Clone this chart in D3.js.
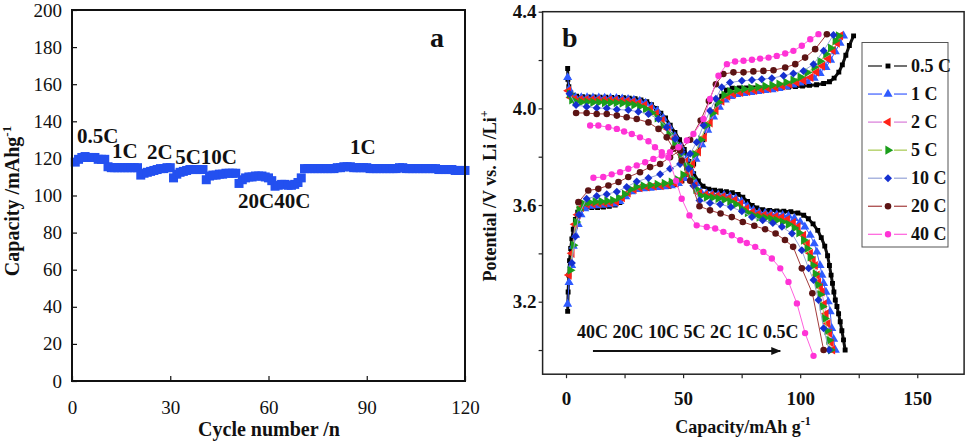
<!DOCTYPE html>
<html>
<head>
<meta charset="utf-8">
<script src="https://cdn.jsdelivr.net/npm/d3@7"></script>
<style>
body { margin: 0; background: #fff; }
svg { display: block; font-family: "Liberation Serif", "Times New Roman", serif; }
</style>
</head>
<body>
<svg id="chart" width="975" height="446"></svg>
<script>
// ---- panel a : capacity per cycle ----
const cycleCapacity = [
  118, 119.5, 120.5, 121, 120.5, 120.5, 120.5, 119.5, 119.5, 119.5,
  115.5, 115, 115, 115, 115, 115, 115, 115, 115, 115,
  111, 112, 112.5, 113, 113.5, 114, 114.5, 114.5, 115, 115,
  109.5, 111.5, 112.5, 113, 113.5, 114, 114, 114, 114, 114,
  108.5, 110.5, 111, 111, 111.5, 111.5, 112, 112, 112, 112,
  106.5, 108.5, 109.5, 110, 110, 110.5, 110.5, 110.5, 110, 109.5,
  108, 105, 105.5, 106, 106, 105.5, 105.5, 106, 107, 109.5,
  114.5, 114.5, 114.5, 114.5, 114.5, 114.5, 114.5, 114.5, 114.5, 114.5,
  115, 115, 115.5, 115.5, 115.5, 115, 115, 115, 115, 115,
  114.5, 114.5, 114.5, 114.5, 114.5, 114.5, 114.5, 114.5, 114.5, 115,
  115, 114.5, 114.5, 114.5, 114.5, 114.5, 114.5, 114.5, 114.5, 114.5,
  114.5, 114, 114, 114, 114, 114, 113.5, 113.5, 113.5, 113.5
];
const cycleTicks = [0, 30, 60, 90, 120];
const capacityTicks = [0, 20, 40, 60, 80, 100, 120, 140, 160, 180, 200];

// ---- panel b : charge / discharge profiles [capacity, potential] ----
const rates = ["0.5 C", "1 C", "2 C", "5 C", "10 C", "20 C", "40 C"];

const charge05 = [[0.7,3.16],[0.9,3.24],[1.2,3.31],[1.5,3.37],[2.0,3.42],[2.5,3.46],[3.1,3.5],[4.0,3.54],[5.0,3.57],[6.5,3.585],[8.5,3.59],[11,3.59],[13.5,3.59],[16,3.592],[18.5,3.595],[21,3.6],[23,3.61],[25,3.635],[27,3.655],[29.5,3.665],[32,3.668],[35,3.67],[38,3.672],[41,3.675],[44,3.678],[47,3.685],[49.5,3.7],[52,3.73],[54.5,3.77],[56.5,3.82],[58.5,3.87],[60.5,3.92],[62.5,3.97],[64.5,4.01],[66.5,4.05],[68.5,4.075],[71,4.083],[74,4.085],[77,4.085],[80,4.085],[83,4.085],[86,4.085],[89,4.086],[92,4.087],[95,4.088],[98,4.09],[101,4.092],[104,4.095],[107,4.098],[110,4.103],[112.5,4.11],[114.5,4.125],[116.5,4.15],[118,4.18],[119.5,4.22],[121,4.26],[122.8,4.3]];
const discharge05 = [[0.7,4.165],[0.8,4.12],[1.2,4.09],[2.0,4.065],[3.0,4.055],[4.5,4.05],[7,4.048],[9.5,4.047],[12,4.047],[14.5,4.046],[17,4.046],[19.5,4.045],[22,4.045],[24.5,4.044],[27,4.042],[29.5,4.04],[32,4.035],[34.5,4.028],[36.5,4.015],[38.5,4.0],[40.5,3.98],[42.5,3.96],[44.5,3.93],[46.5,3.9],[48.5,3.87],[50.5,3.83],[52.5,3.78],[54.5,3.73],[56.5,3.7],[58.5,3.678],[61,3.666],[63.5,3.661],[66,3.658],[68.5,3.655],[71,3.651],[73.5,3.644],[75.5,3.632],[77.5,3.615],[79.5,3.598],[81.5,3.588],[84,3.581],[87,3.578],[90,3.576],[93,3.574],[96,3.572],[99,3.567],[101.5,3.558],[103.5,3.543],[105.5,3.522],[107.5,3.495],[109,3.465],[110.5,3.43],[111.7,3.39],[112.5,3.35],[113.2,3.31],[113.8,3.276],[114.4,3.24],[115,3.207],[115.7,3.18],[116.4,3.15],[117.1,3.117],[117.8,3.08],[118.5,3.042],[119.2,3.0]];

const charge1 = [[0.7,3.19],[1.3,3.28],[2.4,3.35],[3.1,3.43],[4.1,3.475],[5.2,3.52],[6.4,3.56],[8,3.585],[10.5,3.595],[13,3.598],[15.5,3.6],[18,3.602],[20.5,3.605],[23,3.615],[25.5,3.635],[28,3.655],[30.5,3.665],[33,3.668],[36,3.67],[39,3.673],[42,3.676],[45,3.68],[48,3.69],[50.5,3.71],[53,3.745],[55.5,3.79],[58,3.85],[60.5,3.91],[63,3.965],[65.5,4.005],[68,4.035],[70.5,4.05],[73,4.058],[76,4.062],[79,4.066],[82,4.07],[85,4.074],[88,4.078],[91,4.083],[94,4.09],[97,4.097],[100,4.105],[103,4.112],[106,4.125],[108.5,4.145],[111,4.17],[113,4.2],[115,4.235],[117,4.27],[118.5,4.3]];
const discharge1 = [[0.7,4.128],[1.3,4.08],[2.3,4.055],[4,4.046],[6.5,4.045],[9,4.045],[11.5,4.044],[14,4.044],[16.5,4.043],[19,4.043],[21.5,4.042],[24,4.04],[26.5,4.038],[29,4.035],[31.5,4.03],[34,4.022],[36.5,4.008],[39,3.99],[41.5,3.96],[44,3.925],[46.5,3.885],[49,3.84],[51.5,3.79],[53.5,3.74],[55.5,3.69],[57.5,3.655],[60,3.648],[62.5,3.645],[65,3.642],[67.5,3.64],[70,3.636],[72.5,3.628],[75,3.615],[77.5,3.595],[80,3.578],[82.5,3.57],[85,3.566],[87.5,3.563],[90,3.56],[92.5,3.558],[95,3.555],[97.5,3.545],[100,3.53],[102,3.51],[104.3,3.475],[106,3.44],[107.1,3.406],[108.5,3.35],[109.3,3.31],[110,3.276],[111,3.24],[112,3.2],[112.8,3.159],[113.5,3.09],[114.3,3.045],[115,3.0]];

const charge2 = [[1.3,3.31],[2.5,3.4],[3.8,3.52],[5,3.56],[6.5,3.59],[9,3.603],[11.5,3.605],[14,3.607],[16.5,3.608],[19,3.61],[21.5,3.615],[24,3.63],[26.5,3.65],[29,3.665],[31.5,3.672],[34.5,3.675],[37.5,3.678],[40.5,3.68],[43.5,3.684],[46.5,3.69],[49,3.705],[51.5,3.73],[54,3.77],[56.5,3.82],[59,3.88],[61.5,3.94],[64,3.99],[66.5,4.03],[69,4.05],[71.5,4.06],[74.5,4.066],[77.5,4.07],[80.5,4.074],[83.5,4.078],[86.5,4.082],[89.5,4.087],[92.5,4.093],[95.5,4.1],[98.5,4.107],[101.5,4.115],[104.5,4.128],[107,4.15],[109.5,4.175],[112,4.205],[114,4.24],[115.8,4.27],[117.2,4.3]];
const discharge2 = [[1.0,4.073],[2,4.045],[3.5,4.037],[6,4.036],[8.5,4.036],[11,4.035],[13.5,4.035],[16,4.034],[18.5,4.034],[21,4.033],[23.5,4.031],[26,4.029],[28.5,4.026],[31,4.021],[33.5,4.013],[36,3.998],[38.5,3.978],[41,3.95],[43.5,3.915],[46,3.875],[48.5,3.83],[51,3.78],[53,3.73],[55,3.68],[57,3.648],[59.5,3.642],[62,3.64],[64.5,3.637],[67,3.634],[69.5,3.628],[72,3.62],[74.5,3.605],[77,3.585],[79.5,3.57],[82,3.562],[84.5,3.558],[87,3.555],[89.5,3.552],[92,3.548],[94.5,3.54],[97,3.527],[99,3.51],[101.4,3.475],[103,3.44],[104.3,3.4],[105.5,3.37],[106.4,3.35],[107.2,3.31],[107.8,3.28],[108.6,3.26],[109.3,3.24],[110.2,3.19],[111,3.15],[111.8,3.11],[112.5,3.07],[113.2,3.03],[113.8,3.0]];

const charge5 = [[1.8,3.33],[3.1,3.434],[4.3,3.53],[5.6,3.58],[7.5,3.605],[10,3.612],[12.5,3.614],[15,3.615],[17.5,3.617],[20,3.62],[22.5,3.63],[25,3.645],[27.5,3.665],[30,3.676],[33,3.68],[36,3.683],[39,3.686],[42,3.69],[45,3.695],[47.5,3.705],[50,3.725],[52.5,3.76],[55,3.81],[57.5,3.87],[60,3.93],[62.5,3.98],[65,4.025],[67.5,4.055],[70,4.07],[73,4.076],[76,4.08],[79,4.084],[82,4.088],[85,4.092],[88,4.096],[91,4.101],[94,4.108],[97,4.117],[100,4.13],[103,4.148],[106,4.17],[108.5,4.195],[111,4.225],[113,4.25],[115,4.28],[116.4,4.3]];
const discharge5 = [[1.5,4.06],[2.5,4.035],[4,4.027],[6.5,4.026],[9,4.026],[11.5,4.025],[14,4.025],[16.5,4.024],[19,4.024],[21.5,4.023],[24,4.021],[26.5,4.018],[29,4.014],[31.5,4.008],[34,3.998],[36.5,3.982],[39,3.96],[41.5,3.93],[44,3.895],[46.5,3.855],[49,3.81],[51.5,3.76],[53.5,3.71],[55.5,3.665],[57.5,3.638],[60,3.632],[62.5,3.63],[65,3.627],[67.5,3.622],[70,3.615],[72.5,3.603],[75,3.585],[77.5,3.568],[80,3.556],[82.5,3.55],[85,3.546],[87.5,3.542],[90,3.537],[92.5,3.53],[95,3.52],[97.5,3.505],[99.5,3.485],[101.5,3.455],[103,3.42],[104.3,3.385],[105.5,3.35],[106.5,3.315],[107.5,3.27],[108.5,3.23],[109.5,3.18],[110.5,3.13],[111.5,3.08],[112.3,3.04],[113,3.0]];

const charge10 = [[2.5,3.36],[4,3.47],[5.5,3.56],[8.8,3.626],[13.1,3.637],[17.4,3.645],[21.7,3.655],[25.9,3.675],[30.2,3.697],[35.2,3.712],[40.2,3.727],[44.4,3.75],[48.7,3.77],[53,3.812],[55.8,3.86],[58.7,3.93],[61.5,3.99],[64,4.04],[66.5,4.087],[70,4.107],[75.1,4.114],[79.4,4.117],[83.6,4.121],[87.9,4.125],[92.9,4.135],[97.1,4.144],[101.4,4.155],[105.7,4.183],[110,4.238],[114.2,4.304]];
const discharge10 = [[1.5,4.06],[4.3,4.014],[8.8,4.007],[13.1,4.002],[17.4,4.0],[21.7,3.995],[26.6,3.993],[30.9,3.986],[35.2,3.977],[39.5,3.956],[43,3.922],[46.6,3.874],[49.4,3.82],[52.3,3.75],[54.4,3.68],[57,3.619],[61.5,3.608],[65.8,3.603],[70.4,3.592],[75.1,3.574],[79.4,3.55],[84,3.537],[88.3,3.526],[92.2,3.51],[96.5,3.482],[100.7,3.413],[103.6,3.338],[105.7,3.29],[107.8,3.207],[110,3.09],[112.3,3.0]];

const charge20 = [[5.3,3.612],[9.5,3.66],[13.8,3.667],[18.1,3.681],[22.4,3.695],[26.6,3.716],[31.6,3.736],[35.9,3.757],[40.2,3.77],[44.4,3.798],[48.7,3.826],[53,3.87],[57.5,3.95],[61,4.03],[64,4.1],[67.2,4.142],[71.5,4.149],[75.8,4.149],[80,4.153],[84.3,4.155],[88.6,4.158],[93.6,4.169],[97.9,4.183],[102.1,4.21],[106.4,4.245],[111.4,4.307]];
const discharge20 = [[4.3,3.981],[8.8,3.981],[13.1,3.977],[17.4,3.977],[21.7,3.97],[25.9,3.963],[30.2,3.956],[35.2,3.942],[39.5,3.915],[43,3.88],[45.9,3.833],[49.4,3.784],[53,3.7],[57,3.595],[61.5,3.578],[66,3.565],[70.8,3.55],[75.5,3.53],[80.4,3.514],[85,3.5],[89.5,3.482],[93.5,3.455],[97,3.427],[100.7,3.338],[105.2,3.235],[110,3.0]];

const charge40 = [[11.7,3.713],[15.9,3.716],[19.5,3.727],[23.1,3.736],[26.6,3.75],[30.2,3.764],[33.8,3.777],[37.3,3.791],[40.9,3.805],[44.4,3.819],[48,3.839],[51.6,3.867],[54.4,3.894],[58.7,3.956],[61.5,4.039],[65.1,4.135],[68.7,4.183],[72.2,4.194],[75.8,4.197],[79.4,4.201],[82.9,4.206],[86.5,4.21],[90,4.217],[93.6,4.227],[97.1,4.238],[100.7,4.259],[104.3,4.286],[107.8,4.307]];
const discharge40 = [[10.3,3.929],[13.8,3.929],[18.1,3.922],[21.7,3.915],[24.8,3.904],[28.1,3.894],[31.6,3.88],[35.2,3.864],[38,3.839],[40.9,3.819],[43.7,3.798],[47,3.7],[49.4,3.626],[52.7,3.557],[55.8,3.516],[60.1,3.509],[63.7,3.503],[67.2,3.489],[70.8,3.475],[74.4,3.454],[77.2,3.443],[80.8,3.427],[84.3,3.406],[87.9,3.379],[91.5,3.338],[95,3.282],[98.6,3.193],[102.1,3.07],[105.7,2.976]];

const capacityTicksB = [0, 25, 50, 75, 100, 125, 150];
const potentialTicks = [3.0, 3.2, 3.4, 3.6, 3.8, 4.0, 4.2, 4.4];

const svg = d3.select("#chart");
svg.append("rect").attr("width", 975).attr("height", 446).attr("fill", "#fff");

// ================= panel a =================
const xA = d3.scaleLinear().domain([0, 120]).range([72, 465]);
const yA = d3.scaleLinear().domain([0, 200]).range([381, 10]);

const gA = svg.append("g");

gA.append("g")
    .attr("transform", "translate(72,0)")
    .call(d3.axisLeft(yA).tickValues(capacityTicks).tickSizeInner(-5).tickSizeOuter(0).tickPadding(10))
    .call(g => g.select(".domain").remove());

gA.append("g")
    .attr("transform", "translate(0,381)")
    .call(d3.axisBottom(xA).tickValues(cycleTicks).tickSizeInner(-5).tickSizeOuter(0).tickPadding(20))
    .call(g => g.select(".domain").remove());

gA.selectAll(".tick text")
    .attr("font-family", "Liberation Serif, Times New Roman, serif")
    .attr("font-size", 19)
    .attr("fill", "#111");
gA.selectAll(".tick line").attr("stroke", "#111").attr("stroke-width", 1.2);

gA.append("g")
    .selectAll("rect")
    .data(cycleCapacity)
    .join("rect")
    .attr("x", (d, i) => xA(i + 1) - 4.5)
    .attr("y", d => yA(d) - 4.5)
    .attr("width", 9)
    .attr("height", 9)
    .attr("fill", "#2350f0");

gA.append("rect")
    .attr("x", xA(0)).attr("y", yA(200))
    .attr("width", xA(120) - xA(0)).attr("height", yA(0) - yA(200))
    .attr("fill", "none").attr("stroke", "#111").attr("stroke-width", 2);

const labA = gA.append("g").attr("font-weight", "bold").attr("font-size", 21).attr("fill", "#111");
labA.append("text").attr("x", xA(1.5)).attr("y", yA(128.3)).text("0.5C");
labA.append("text").attr("x", xA(12.2)).attr("y", yA(120.2)).text("1C");
labA.append("text").attr("x", xA(22.9)).attr("y", yA(119.7)).text("2C");
labA.append("text").attr("x", xA(31.5)).attr("y", yA(117)).text("5C10C");
labA.append("text").attr("x", xA(50.7)).attr("y", yA(93.3)).text("20C40C");
labA.append("text").attr("x", xA(84.9)).attr("y", yA(122.4)).text("1C");
labA.append("text").attr("x", 437).attr("y", 47).attr("text-anchor", "middle").attr("font-size", 28).text("a");

gA.append("text")
    .attr("transform", "translate(19,201) rotate(-90)")
    .attr("text-anchor", "middle")
    .attr("font-weight", "bold").attr("font-size", 20).attr("fill", "#111")
    .call(t => {
        t.append("tspan").text("Capacity /mAhg");
        t.append("tspan").attr("dy", -8).attr("font-size", 13).text("-1");
    });

gA.append("text")
    .attr("x", 269).attr("y", 436)
    .attr("text-anchor", "middle")
    .attr("font-weight", "bold").attr("font-size", 20).attr("fill", "#111")
    .text("Cycle number /n");

// ================= panel b =================
const xB = d3.scaleLinear().domain([-10, 170]).range([542.6, 964.1]);
const yB = d3.scaleLinear().domain([2.9, 4.4]).range([374.2, 11.7]);

const gB = svg.append("g");

gB.append("g")
    .attr("transform", `translate(${xB(-10)},0)`)
    .call(d3.axisLeft(yB).tickValues(potentialTicks).tickSizeInner(4).tickSizeOuter(0).tickPadding(2)
        .tickFormat(d => [3.2, 3.6, 4.0, 4.4].includes(d) ? d3.format(".1f")(d) : ""))
    .call(g => g.select(".domain").remove());

gB.append("g")
    .attr("transform", `translate(0,${yB(2.9)})`)
    .call(d3.axisBottom(xB).tickValues(capacityTicksB).tickSizeInner(4).tickSizeOuter(0).tickPadding(13)
        .tickFormat(d => d % 50 === 0 ? d : ""))
    .call(g => g.select(".domain").remove());

gB.selectAll(".tick text")
    .attr("font-family", "Liberation Serif, Times New Roman, serif")
    .attr("font-size", 19)
    .attr("font-weight", "bold")
    .attr("fill", "#111");
gB.selectAll(".tick line").attr("stroke", "#222").attr("stroke-width", 1.2);

svg.append("clipPath").attr("id", "clipB")
    .append("rect")
    .attr("x", xB(-10)).attr("y", yB(4.4))
    .attr("width", xB(170) - xB(-10)).attr("height", yB(2.9) - yB(4.4));

const series = [
    { name: rates[0], curves: [charge05, discharge05], shape: d3.symbolSquare, size: 24, rot: 0, fill: "#000", line: "#111", lw: 3 },
    { name: rates[1], curves: [charge1, discharge1], shape: d3.symbolTriangle, size: 36, rot: 0, fill: "#2f5bff", line: "#3a5bff", lw: 1 },
    { name: rates[2], curves: [charge2, discharge2], shape: d3.symbolTriangle, size: 36, rot: -90, fill: "#ff2218", line: "#d97ad9", lw: 1 },
    { name: rates[3], curves: [charge5, discharge5], shape: d3.symbolTriangle, size: 36, rot: 90, fill: "#1b9e1b", line: "#a6c84e", lw: 1 },
    { name: rates[4], curves: [charge10, discharge10], shape: d3.symbolSquare, size: 32, rot: 45, fill: "#1530d0", line: "#95a3d8", lw: 1 },
    { name: rates[5], curves: [charge20, discharge20], shape: d3.symbolCircle, size: 34, rot: 0, fill: "#5c1414", line: "#a33c3c", lw: 1 },
    { name: rates[6], curves: [charge40, discharge40], shape: d3.symbolCircle, size: 32, rot: 0, fill: "#ff33d6", line: "#ff5fdc", lw: 1 }
];

const plotB = gB.append("g").attr("clip-path", "url(#clipB)");
const lineB = d3.line().x(d => xB(d[0])).y(d => yB(d[1]));

series.forEach(s => {
    const g = plotB.append("g");
    s.curves.forEach(c => {
        g.append("path").attr("d", lineB(c))
            .attr("fill", "none").attr("stroke", s.line).attr("stroke-width", s.lw);
        g.selectAll(null)
            .data(c)
            .join("path")
            .attr("d", d3.symbol(s.shape, s.size))
            .attr("transform", d => `translate(${xB(d[0])},${yB(d[1])}) rotate(${s.rot})`)
            .attr("fill", s.fill);
    });
});

gB.append("rect")
    .attr("x", xB(-10)).attr("y", yB(4.4))
    .attr("width", xB(170) - xB(-10)).attr("height", yB(2.9) - yB(4.4))
    .attr("fill", "none").attr("stroke", "#222").attr("stroke-width", 1.5);

// legend
const legend = gB.append("g");
legend.append("rect")
    .attr("x", 862).attr("y", 42.5).attr("width", 86).attr("height", 204.5)
    .attr("fill", "#fff").attr("stroke", "#555").attr("stroke-width", 1);
series.forEach((s, i) => {
    const y = 66 + i * 28.05;
    legend.append("line").attr("x1", 868).attr("x2", 882).attr("y1", y).attr("y2", y)
        .attr("stroke", s.line).attr("stroke-width", 1.2);
    legend.append("line").attr("x1", 894).attr("x2", 907).attr("y1", y).attr("y2", y)
        .attr("stroke", s.line).attr("stroke-width", 1.2);
    legend.append("path").attr("d", d3.symbol(s.shape, s.size))
        .attr("transform", `translate(888,${y}) rotate(${s.rot})`)
        .attr("fill", s.fill);
    legend.append("text").attr("x", 911).attr("y", y + 6)
        .attr("font-weight", "bold").attr("font-size", 18).attr("fill", "#111")
        .text(s.name);
});

gB.append("text").attr("x", 562).attr("y", 47)
    .attr("font-weight", "bold").attr("font-size", 28).attr("fill", "#111").text("b");

gB.append("text").attr("x", xB(4.7)).attr("y", yB(3.05))
    .attr("font-weight", "bold").attr("font-size", 18).attr("fill", "#111")
    .text("40C 20C 10C 5C 2C 1C 0.5C");

svg.append("defs").append("marker")
    .attr("id", "arrow").attr("viewBox", "0 0 10 10")
    .attr("refX", 9).attr("refY", 5)
    .attr("markerWidth", 5).attr("markerHeight", 5)
    .attr("orient", "auto")
    .append("path").attr("d", "M0,1 L10,5 L0,9 z").attr("fill", "#111");

gB.append("line")
    .attr("x1", xB(11.5)).attr("x2", xB(91.5))
    .attr("y1", yB(2.996)).attr("y2", yB(2.996))
    .attr("stroke", "#111").attr("stroke-width", 2)
    .attr("marker-end", "url(#arrow)");

gB.append("text")
    .attr("transform", "translate(496,196) rotate(-90)")
    .attr("text-anchor", "middle")
    .attr("font-weight", "bold").attr("font-size", 18).attr("fill", "#111")
    .call(t => {
        t.append("tspan").text("Potential /V vs. Li /Li");
        t.append("tspan").attr("dy", -8).attr("font-size", 12).text("+");
    });

gB.append("text")
    .attr("x", 743).attr("y", 433)
    .attr("text-anchor", "middle")
    .attr("font-weight", "bold").attr("font-size", 18).attr("fill", "#111")
    .call(t => {
        t.append("tspan").text("Capacity/mAh g");
        t.append("tspan").attr("dy", -8).attr("font-size", 12).text("-1");
    });
</script>
</body>
</html>
